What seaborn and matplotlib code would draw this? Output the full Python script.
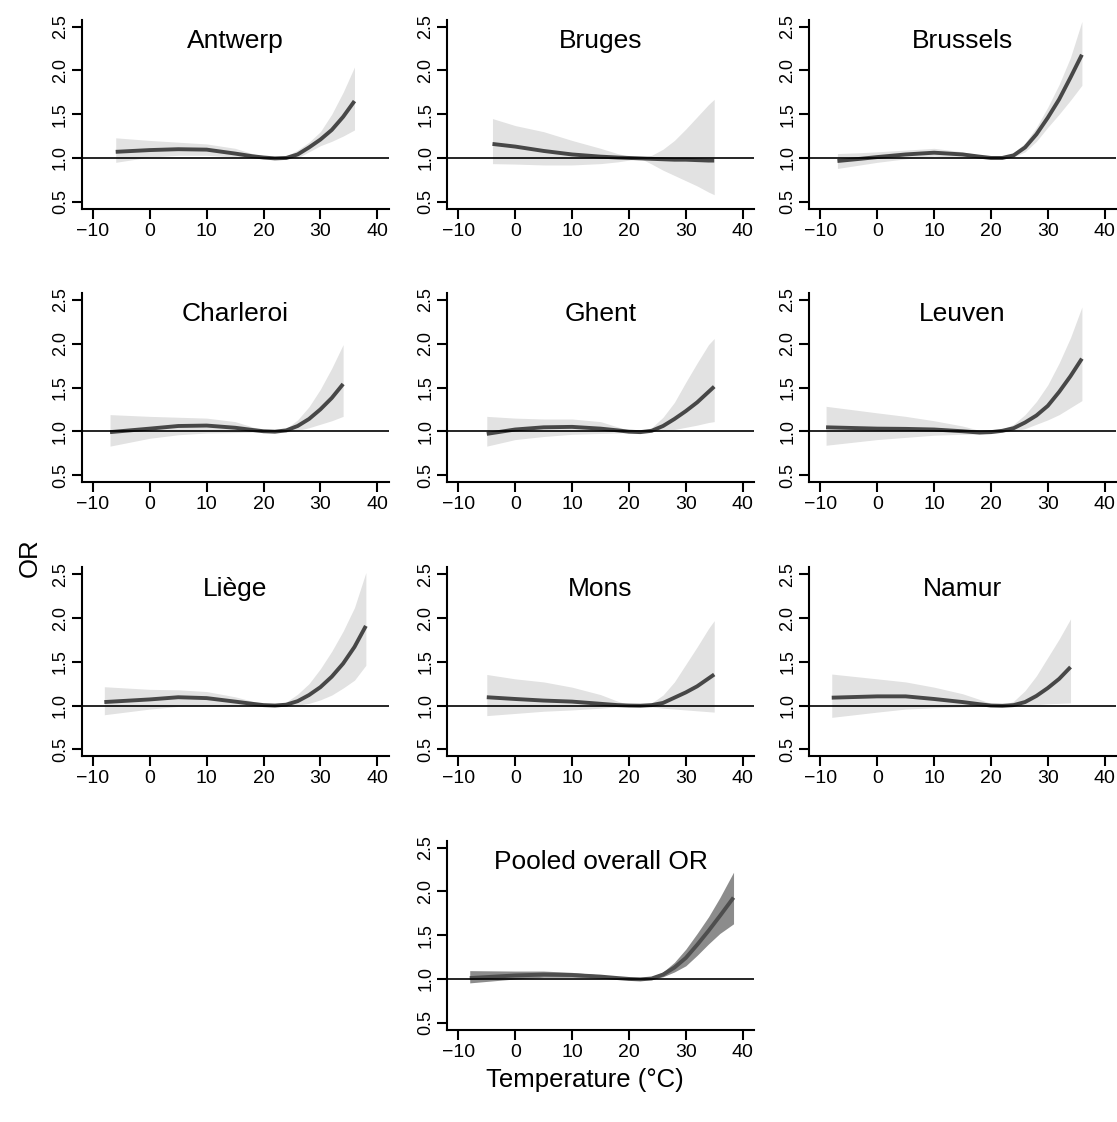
import matplotlib
matplotlib.use("Agg")
import matplotlib.pyplot as plt
import seaborn as sns

# Exposure-response curves (temperature in degC, OR with 95% CI)
antwerp_t = [-6, 0, 5, 10, 15, 18, 20, 22, 24, 26, 28, 30, 32, 34, 36]
antwerp_or = [1.07, 1.09, 1.10, 1.095, 1.05, 1.02, 1.005, 0.995, 1.0, 1.04, 1.12, 1.21, 1.32, 1.47, 1.65]
antwerp_lo = [0.95, 1.01, 1.03, 1.03, 1.01, 1.0, 0.995, 0.99, 0.99, 1.0, 1.07, 1.14, 1.19, 1.25, 1.32]
antwerp_hi = [1.23, 1.20, 1.18, 1.16, 1.11, 1.05, 1.015, 1.0, 1.02, 1.09, 1.18, 1.30, 1.50, 1.75, 2.04]

bruges_t = [-4, 0, 5, 10, 15, 18, 20, 22, 24, 26, 28, 30, 32, 34, 35]
bruges_or = [1.16, 1.13, 1.08, 1.04, 1.015, 1.005, 1.0, 0.995, 0.99, 0.985, 0.98, 0.98, 0.975, 0.97, 0.97]
bruges_lo = [0.935, 0.93, 0.92, 0.92, 0.935, 0.955, 0.975, 0.995, 0.93, 0.86, 0.80, 0.74, 0.68, 0.61, 0.58]
bruges_hi = [1.45, 1.37, 1.30, 1.20, 1.11, 1.05, 1.02, 1.0, 1.03, 1.10, 1.20, 1.33, 1.47, 1.61, 1.67]

brussels_t = [-7, -3, 0, 5, 10, 15, 18, 20, 22, 24, 26, 28, 30, 32, 34, 36]
brussels_or = [0.965, 0.99, 1.01, 1.04, 1.06, 1.04, 1.015, 1.0, 1.0, 1.03, 1.12, 1.27, 1.46, 1.67, 1.92, 2.18]
brussels_lo = [0.88, 0.92, 0.95, 0.99, 1.02, 1.0, 0.995, 0.99, 1.0, 1.01, 1.07, 1.19, 1.35, 1.50, 1.66, 1.83]
brussels_hi = [1.05, 1.06, 1.07, 1.09, 1.11, 1.07, 1.03, 1.01, 1.0, 1.06, 1.17, 1.35, 1.58, 1.84, 2.15, 2.56]

charleroi_t = [-7, 0, 5, 10, 15, 18, 20, 22, 24, 26, 28, 30, 32, 34]
charleroi_or = [0.99, 1.03, 1.06, 1.065, 1.04, 1.015, 1.0, 0.995, 1.01, 1.06, 1.14, 1.25, 1.38, 1.54]
charleroi_lo = [0.83, 0.92, 0.96, 0.98, 0.985, 0.99, 0.99, 0.99, 0.99, 1.01, 1.04, 1.08, 1.12, 1.17]
charleroi_hi = [1.19, 1.17, 1.16, 1.15, 1.11, 1.05, 1.01, 1.0, 1.03, 1.13, 1.28, 1.48, 1.72, 1.99]

ghent_t = [-5, 0, 5, 10, 15, 18, 20, 22, 24, 26, 28, 30, 32, 34, 35]
ghent_or = [0.97, 1.02, 1.045, 1.05, 1.03, 1.01, 0.995, 0.99, 1.005, 1.06, 1.14, 1.23, 1.33, 1.45, 1.51]
ghent_lo = [0.83, 0.905, 0.94, 0.965, 0.975, 0.98, 0.985, 0.99, 0.995, 1.005, 1.02, 1.045, 1.07, 1.10, 1.11]
ghent_hi = [1.17, 1.15, 1.14, 1.14, 1.11, 1.05, 1.01, 1.0, 1.04, 1.16, 1.33, 1.56, 1.78, 1.99, 2.06]

leuven_t = [-9, 0, 5, 10, 15, 18, 20, 22, 24, 26, 28, 30, 32, 34, 36]
leuven_or = [1.045, 1.03, 1.027, 1.02, 1.0, 0.985, 0.99, 1.005, 1.035, 1.10, 1.18, 1.29, 1.45, 1.63, 1.83]
leuven_lo = [0.84, 0.905, 0.93, 0.955, 0.965, 0.97, 0.98, 0.99, 1.0, 1.03, 1.08, 1.13, 1.19, 1.27, 1.35]
leuven_hi = [1.285, 1.21, 1.17, 1.12, 1.06, 1.01, 1.0, 1.02, 1.08, 1.19, 1.34, 1.53, 1.78, 2.07, 2.42]

liege_t = [-8, 0, 5, 10, 15, 18, 20, 22, 24, 26, 28, 30, 32, 34, 36, 38]
liege_or = [1.04, 1.07, 1.095, 1.085, 1.045, 1.02, 1.005, 1.0, 1.01, 1.05, 1.12, 1.21, 1.33, 1.48, 1.67, 1.91]
liege_lo = [0.895, 0.96, 0.99, 1.0, 1.0, 0.995, 0.99, 1.0, 0.995, 1.005, 1.025, 1.065, 1.12, 1.20, 1.29, 1.46]
liege_hi = [1.215, 1.185, 1.18, 1.16, 1.10, 1.05, 1.02, 1.0, 1.04, 1.13, 1.25, 1.42, 1.62, 1.85, 2.12, 2.52]

mons_t = [-5, 0, 5, 10, 15, 18, 20, 22, 24, 26, 28, 30, 32, 34, 35]
mons_or = [1.095, 1.075, 1.057, 1.045, 1.02, 1.005, 1.0, 0.998, 1.005, 1.03, 1.09, 1.15, 1.22, 1.31, 1.355]
mons_lo = [0.885, 0.91, 0.935, 0.95, 0.97, 0.985, 0.99, 0.998, 0.985, 0.97, 0.96, 0.95, 0.94, 0.93, 0.925]
mons_hi = [1.355, 1.305, 1.27, 1.21, 1.125, 1.05, 1.01, 1.0, 1.03, 1.12, 1.27, 1.47, 1.67, 1.88, 1.97]

namur_t = [-8, 0, 5, 10, 15, 18, 20, 22, 24, 26, 28, 30, 32, 34]
namur_or = [1.09, 1.105, 1.105, 1.075, 1.04, 1.015, 1.0, 0.997, 1.005, 1.04, 1.11, 1.20, 1.305, 1.44]
namur_lo = [0.865, 0.925, 0.96, 0.975, 0.985, 0.99, 0.99, 0.997, 1.0, 1.005, 1.01, 1.02, 1.025, 1.03]
namur_hi = [1.36, 1.305, 1.27, 1.21, 1.135, 1.07, 1.025, 1.0, 1.05, 1.17, 1.34, 1.55, 1.76, 1.99]

pooled_t = [-8, 0, 5, 10, 15, 18, 20, 22, 24, 26, 28, 30, 32, 34, 36, 38.4]
pooled_or = [1.01, 1.04, 1.05, 1.045, 1.027, 1.01, 1.0, 0.995, 1.005, 1.05, 1.13, 1.24, 1.39, 1.55, 1.72, 1.93]
pooled_lo = [0.955, 1.0, 1.02, 1.02, 1.01, 1.0, 0.995, 0.993, 0.995, 1.025, 1.08, 1.15, 1.27, 1.40, 1.52, 1.63]
pooled_hi = [1.095, 1.09, 1.09, 1.075, 1.045, 1.02, 1.005, 0.997, 1.02, 1.08, 1.19, 1.34, 1.52, 1.71, 1.93, 2.22]

titles = ["Antwerp", "Bruges", "Brussels", "Charleroi", "Ghent", "Leuven",
          "Liège", "Mons", "Namur", "Pooled overall OR"]
x_ticks = [-10, 0, 10, 20, 30, 40]
y_ticks = [0.5, 1.0, 1.5, 2.0, 2.5]

panels = [
    (antwerp_t, antwerp_or, antwerp_lo, antwerp_hi),
    (bruges_t, bruges_or, bruges_lo, bruges_hi),
    (brussels_t, brussels_or, brussels_lo, brussels_hi),
    (charleroi_t, charleroi_or, charleroi_lo, charleroi_hi),
    (ghent_t, ghent_or, ghent_lo, ghent_hi),
    (leuven_t, leuven_or, leuven_lo, leuven_hi),
    (liege_t, liege_or, liege_lo, liege_hi),
    (mons_t, mons_or, mons_lo, mons_hi),
    (namur_t, namur_or, namur_lo, namur_hi),
    (pooled_t, pooled_or, pooled_lo, pooled_hi),
]

sns.set_style("ticks")
plt.rcParams['font.family'] = ['Liberation Sans', 'DejaVu Sans']
plt.rcParams['text.color'] = 'black'
plt.rcParams['xtick.color'] = 'black'
plt.rcParams['ytick.color'] = 'black'

W, H = 1117, 1122
fig = plt.figure(figsize=(W / 100, H / 100), dpi=100)

col_left = [81.6, 447.0, 809.0]
row_bottom = [208.7, 482.0, 756.3, 1029.7]
ax_w, ax_h = 307.0, 189.0

for i, (name, (t, o, lo, hi)) in enumerate(zip(titles, panels)):
    if i < 9:
        r, c = divmod(i, 3)
    else:
        r, c = 3, 1
    ax = fig.add_axes([col_left[c] / W, 1 - row_bottom[r] / H, ax_w / W, ax_h / H])
    pooled = (i == 9)
    band_col = "#8c8c8c" if pooled else "#e2e2e2"
    line_col = "#4e4e4e" if pooled else "#474747"
    ax.fill_between(t, lo, hi, color=band_col, lw=0, zorder=1)
    sns.lineplot(x=t, y=o, ax=ax, color=line_col, lw=2.8, zorder=2,
                 solid_capstyle='butt', solid_joinstyle='round')
    ax.axhline(1.0, color="black", lw=1.2, zorder=3)

    ax.set_xlim(-12, 42)
    ax.set_ylim(0.42, 2.58)
    ax.set_xticks(x_ticks)
    ax.set_yticks(y_ticks)
    ax.set_yticklabels([f"{v:.1f}" for v in y_ticks])
    for lab in ax.get_yticklabels():
        lab.set_rotation(90)
        lab.set_va('center')
    sns.despine(ax=ax)
    for s in ["left", "bottom"]:
        ax.spines[s].set_linewidth(1.5)
        ax.spines[s].set_color("black")
    ax.tick_params(axis='both', direction='out', length=7, width=1.5, color='black',
                   labelcolor='black')
    ax.tick_params(axis='x', labelsize=14, pad=3)
    ax.tick_params(axis='y', labelsize=13, pad=2)
    ax.text(0.5, 0.85, name, transform=ax.transAxes, ha='center', va='baseline',
            fontsize=19)
    ax.set_xlabel("")
    ax.set_ylabel("")

fig.text(30 / W, 1 - 558 / H, "OR", rotation=90, ha='center', va='center', fontsize=18.5)
fig.text(585 / W, 1 - 1080 / H, "Temperature (°C)", ha='center', va='center', fontsize=18.5)

fig.savefig("out.png", dpi=100, facecolor="white")
